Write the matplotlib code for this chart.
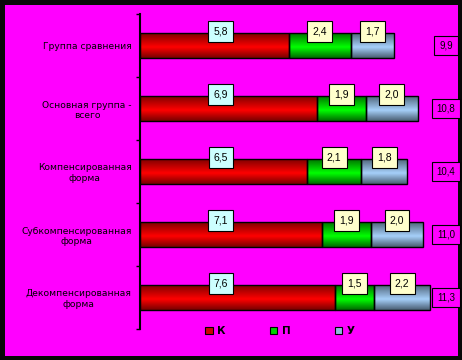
import numpy as np
import matplotlib
matplotlib.use("Agg")
import matplotlib.pyplot as plt
from matplotlib.colors import LinearSegmentedColormap
from matplotlib.patches import Rectangle, Patch
from matplotlib.transforms import blended_transform_factory

categories = ["Группа сравнения", "Основная группа -\nвсего", "Компенсированная\nформа",
              "Субкомпенсированная\nформа", "Декомпенсированная\nформа"]
series_names = ["К", "П", "У"]
k_vals = [5.8, 6.9, 6.5, 7.1, 7.6]
p_vals = [2.4, 1.9, 2.1, 1.9, 1.5]
u_vals = [1.7, 2.0, 1.8, 2.0, 2.2]
totals = [9.9, 10.8, 10.4, 11.0, 11.3]

MAGENTA = "#FF00FF"
NUMFONT = ["Liberation Sans", "DejaVu Sans"]
fmt = lambda v: f"{v:.1f}".replace(".", ",")

fig = plt.figure(figsize=(4.62, 3.60), dpi=100)
fig.patch.set_facecolor("#080808")
fig.patches.append(Rectangle((5/462, 4/360), 453/462, 351/360, transform=fig.transFigure,
                             facecolor=MAGENTA, edgecolor="none", zorder=-10))

ax = fig.add_axes([140/462, 31/360, 318/462, 315/360])
ax.set_facecolor("none")
ax.set_xlim(0, 318/25.7)
n = len(categories)
y = np.arange(n)
ax.set_ylim(n - 0.5, -0.5)

series = [k_vals, p_vals, u_vals]
grad_colors = [("#780000", "#ff0000"), ("#006a00", "#00ff00"), ("#4a5e72", "#a6d0fa")]
legend_colors = ["#d00000", "#00d000", "#90b8e0"]
label_face = ["#CCFFFF", "#FFFFCC", "#FFFFCC"]
bar_h = 0.4
left = np.zeros(n)
grad = np.linspace(0, 1, 64).reshape(-1, 1)
for si, vals in enumerate(series):
    vals = np.array(vals)
    cmap = LinearSegmentedColormap.from_list("g", [(0, grad_colors[si][0]), (0.58, grad_colors[si][1]),
                                                    (1, grad_colors[si][0])])
    bars = ax.barh(y, vals, left=left, height=bar_h, color=legend_colors[si], zorder=2)
    for r in bars:
        x0, y0, w, h = r.get_x(), r.get_y(), r.get_width(), r.get_height()
        im = ax.imshow(grad, extent=(x0, x0 + w, y0 + h, y0), aspect="auto", cmap=cmap,
                       interpolation="bilinear", zorder=2.5)
        im.set_clip_path(r)
    ax.barh(y, vals, left=left, height=bar_h, facecolor="none", edgecolor="black", linewidth=1, zorder=3)
    for i, v in enumerate(vals):
        if si == 0:
            xc = 3.15
        else:
            xc = left[i] + v / 2
        ax.text(xc, y[i] - bar_h / 2 - 0.02, fmt(v), ha="center", va="center", fontsize=7.5,
                family=NUMFONT, zorder=5,
                bbox=dict(boxstyle="square,pad=0.5", facecolor=label_face[si],
                          edgecolor="black", linewidth=0.8))
    left = left + vals

ax.set_xlim(0, 318/25.7)
ax.set_ylim(n - 0.5, -0.5)

trans = blended_transform_factory(ax.transAxes, ax.transData)
for i, t in enumerate(totals):
    ax.text(0.962, y[i], fmt(t), transform=trans, ha="center", va="center", fontsize=7,
            family=NUMFONT, zorder=5,
            bbox=dict(boxstyle="square,pad=0.5", facecolor=MAGENTA, edgecolor="black", linewidth=0.8))

for s in ["top", "right", "bottom"]:
    ax.spines[s].set_visible(False)
ax.spines["left"].set_linewidth(1.5)
ax.set_xticks([])
ax.set_yticks(y)
ax.set_yticklabels(categories, fontsize=6.6, multialignment="center")
ax.tick_params(axis="y", which="major", length=0, pad=6)
ax.set_yticks(np.arange(-0.5, n, 1.0), minor=True)
ax.tick_params(axis="y", which="minor", length=3, width=1)

handles = [Patch(facecolor=c, edgecolor="black", linewidth=0.8) for c in legend_colors]
fig.legend(handles, series_names, loc="center", bbox_to_anchor=(280/462, 1 - 331/360), ncol=3,
           frameon=False, prop=dict(size=7.5, weight="bold"), handlelength=0.7, handleheight=0.7,
           handletextpad=0.4, columnspacing=4.3, borderpad=0)

fig.savefig("out.png", dpi=100, facecolor=fig.get_facecolor())
